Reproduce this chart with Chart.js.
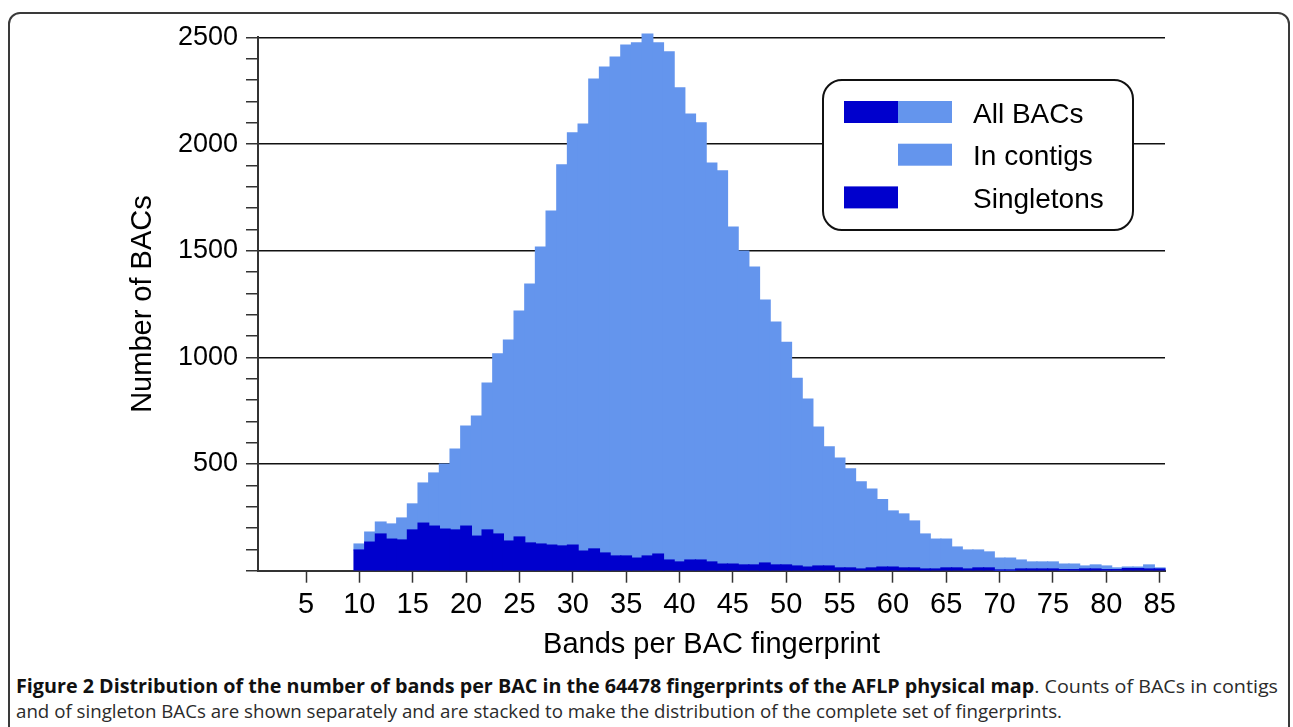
<!DOCTYPE html>
<html>
<head>
<meta charset="utf-8">
<script src="https://cdn.jsdelivr.net/npm/chart.js@4/dist/chart.umd.min.js"></script>
<style>
  html, body { margin: 0; padding: 0; background: #fff; width: 1293px; height: 727px; overflow: hidden; }
  #frame { position: absolute; left: 8px; top: 12px; width: 1282px; height: 780px; border: 2px solid #3a3a3a;
           border-radius: 12px; box-sizing: border-box; }
  #plot { position: absolute; left: 0; top: 0; width: 1293px; height: 670px; }
  .cap { position: absolute; left: 16px; white-space: nowrap; font-family: "Open Sans", "Liberation Sans", sans-serif;
         font-size: 19px; line-height: 24px; color: #2b2b2b; transform-origin: 0 50%; }
  .cap b { font-weight: 700; color: #111; }
</style>
</head>
<body>
<div id="frame"></div>
<div id="plot"><canvas id="c" width="1293" height="670"></canvas></div>
<div class="cap" id="cap1" style="top:674px"><b>Figure 2 Distribution of the number of bands per BAC in the 64478 fingerprints of the AFLP physical map</b>. Counts of BACs in contigs</div>
<div class="cap" id="cap2" style="top:699px">and of singleton BACs are shown separately and are stacked to make the distribution of the complete set of fingerprints.</div>
<script>
// Bands per fingerprint (histogram bins)
const bandCounts = [
  10, 11, 12, 13, 14, 15, 16, 17, 18, 19,
  20, 21, 22, 23, 24, 25, 26, 27, 28, 29,
  30, 31, 32, 33, 34, 35, 36, 37, 38, 39,
  40, 41, 42, 43, 44, 45, 46, 47, 48, 49,
  50, 51, 52, 53, 54, 55, 56, 57, 58, 59,
  60, 61, 62, 63, 64, 65, 66, 67, 68, 69,
  70, 71, 72, 73, 74, 75, 76, 77, 78, 79,
  80, 81, 82, 83, 84, 85
];

// All BACs per bin (height of the stacked bar)
const totalBACs = [
  125, 181, 228, 219, 247, 313, 411, 458, 500, 570,
  678, 725, 880, 1016, 1081, 1217, 1343, 1517, 1686, 1902,
  2052, 2094, 2305, 2361, 2408, 2464, 2474, 2516, 2474, 2432,
  2263, 2141, 2099, 1911, 1874, 1611, 1498, 1423, 1268, 1165,
  1071, 902, 804, 673, 580, 528, 477, 416, 383, 333,
  280, 266, 233, 172, 148, 148, 111, 97, 97, 88,
  59, 59, 50, 41, 41, 41, 31, 31, 22, 27,
  22, 13, 17, 17, 27, 13
];

// Singleton BACs per bin
const singletonBACs = [
  97, 134, 172, 148, 144, 191, 223, 209, 195, 191,
  209, 162, 191, 172, 139, 158, 130, 125, 120, 116,
  120, 92, 102, 83, 69, 69, 59, 69, 78, 50,
  41, 50, 50, 41, 31, 31, 27, 27, 36, 27,
  27, 22, 17, 22, 22, 13, 13, 8, 13, 17,
  17, 13, 13, 8, 8, 13, 13, 8, 13, 13,
  3, 3, 8, 8, 8, 8, 5, 5, 8, 8,
  5, 5, 10, 10, 8, 8
];

// Labelled positions on the x axis
const xTickValues = [5, 10, 15, 20, 25, 30, 35, 40, 45, 50, 55, 60, 65, 70, 75, 80, 85];

const DARK = '#0000cd';
const LIGHT = '#6495ed';
const FONT = '"Liberation Sans", Arial, Helvetica, sans-serif';

// BACs in contigs sit on top of the singletons
const inContigBACs = totalBACs.map((t, i) => t - singletonBACs[i]);

Chart.defaults.font.family = FONT;
Chart.defaults.color = '#000';

// Rounded legend box with the combined "All BACs" swatch
const legendBox = {
  id: 'legendBox',
  afterDraw(chart) {
    const ctx = chart.ctx;
    const a = chart.chartArea;
    const x = a.left + 565, y = a.top + 42.6, w = 310, h = 150, r = 19;
    ctx.save();
    ctx.beginPath();
    ctx.moveTo(x + r, y);
    ctx.lineTo(x + w - r, y);
    ctx.arcTo(x + w, y, x + w, y + r, r);
    ctx.lineTo(x + w, y + h - r);
    ctx.arcTo(x + w, y + h, x + w - r, y + h, r);
    ctx.lineTo(x + r, y + h);
    ctx.arcTo(x, y + h, x, y + h - r, r);
    ctx.lineTo(x, y + r);
    ctx.arcTo(x, y, x + r, y, r);
    ctx.closePath();
    ctx.fillStyle = '#fff';
    ctx.fill();
    ctx.lineWidth = 2;
    ctx.strokeStyle = '#111';
    ctx.stroke();

    const sx = x + 21, sw = 54, sh = 22;
    const rows = [
      { text: 'All BACs', dark: true, light: true },
      { text: 'In contigs', dark: false, light: true },
      { text: 'Singletons', dark: true, light: false }
    ];
    ctx.font = '28px ' + FONT;
    ctx.textAlign = 'left';
    ctx.textBaseline = 'alphabetic';
    rows.forEach((row, i) => {
      const top = y + 21 + i * 42.7;
      if (row.dark) { ctx.fillStyle = DARK; ctx.fillRect(sx, top, sw, sh); }
      if (row.light) { ctx.fillStyle = LIGHT; ctx.fillRect(sx + sw, top, sw, sh); }
      ctx.fillStyle = '#000';
      ctx.fillText(row.text, x + 150, top + 21.5);
    });
    ctx.restore();
  }
};

new Chart(document.getElementById('c'), {
  type: 'bar',
  data: {
    datasets: [
      {
        label: 'Singletons',
        data: bandCounts.map((b, i) => ({ x: b, y: singletonBACs[i] })),
        backgroundColor: DARK,
        clip: false
      },
      {
        label: 'In contigs',
        data: bandCounts.map((b, i) => ({ x: b, y: inContigBACs[i] })),
        backgroundColor: LIGHT,
        clip: false
      }
    ]
  },
  options: {
    responsive: false,
    animation: false,
    devicePixelRatio: 1,
    layout: { padding: { left: 100, top: 37.4, right: 128, bottom: 0 } },
    datasets: { bar: { categoryPercentage: 1, barPercentage: 1, borderWidth: 0, inflateAmount: 0.6 } },
    plugins: { legend: { display: false }, tooltip: { enabled: false } },
    scales: {
      x: {
        type: 'linear',
        stacked: true,
        offset: false,
        min: 0.5,
        max: 85.5,
        afterBuildTicks: s => { s.ticks = xTickValues.map(v => ({ value: v })); },
        afterFit: s => { s.height = 99.3; },
        ticks: { font: { size: 29 }, color: '#000', padding: 5, maxRotation: 0, autoSkip: false },
        grid: { offset: false, drawOnChartArea: false, drawTicks: true, tickLength: 12, tickColor: '#333', tickWidth: 1.5 },
        border: { display: true, color: '#333', width: 2 },
        title: { display: true, text: 'Bands per BAC fingerprint', font: { size: 29 }, color: '#000', padding: { top: 0, bottom: 7.6 } }
      },
      y: {
        stacked: true,
        min: 0,
        max: 2500,
        afterFit: s => { s.width = 158; },
        ticks: {
          stepSize: 100,
          autoSkip: false,
          font: { size: 27 },
          color: '#000',
          padding: 8,
          callback: v => (v > 0 && v % 500 === 0 ? String(v) : '')
        },
        grid: {
          color: c => (c.tick && c.tick.value > 0 && c.tick.value % 500 === 0 ? '#111' : 'rgba(0,0,0,0)'),
          lineWidth: 1.5,
          tickColor: '#333',
          tickLength: 12,
          tickWidth: 1.5
        },
        border: { display: true, color: '#333', width: 2 },
        title: { display: true, text: 'Number of BACs', font: { size: 29 }, color: '#000', padding: { top: 26, bottom: 0 } }
      }
    }
  },
  plugins: [legendBox]
});

// Fit each caption line to the text block width
[['cap1', 1262], ['cap2', 1046]].forEach(([id, target]) => {
  const el = document.getElementById(id);
  const w = el.getBoundingClientRect().width;
  if (w > 0) el.style.transform = 'scaleX(' + (target / w) + ')';
});
</script>
</body>
</html>
